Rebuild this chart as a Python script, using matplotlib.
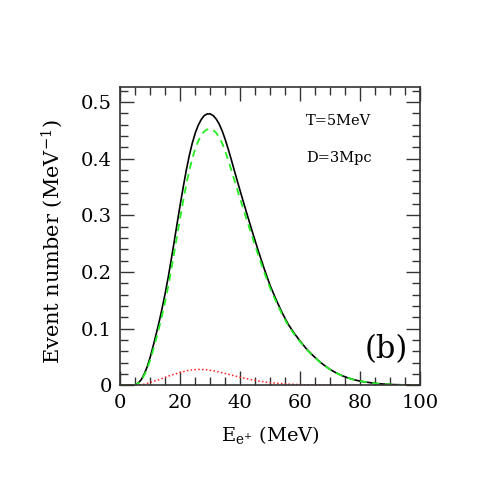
import matplotlib
matplotlib.use("Agg")
import matplotlib.pyplot as plt
from matplotlib.ticker import MultipleLocator

# Positron energy grid (MeV)
energy = [0, 4, 5, 6, 7, 8, 9, 10, 11, 12, 13, 14, 15, 16, 17, 18, 19, 20, 21, 22,
          23, 24, 25, 26, 27, 28, 29, 30, 31, 32, 33, 34, 35, 36, 37, 38, 40, 42, 44,
          46, 48, 50, 52, 54, 56, 58, 60, 62, 64, 66, 68, 70, 72, 74, 76, 78, 80, 85,
          90, 95, 100]

# total (black solid)
total = [0, 0, 0.001, 0.004, 0.010, 0.020, 0.033, 0.050, 0.070, 0.091, 0.113, 0.137,
         0.163, 0.191, 0.222, 0.254, 0.287, 0.319, 0.350, 0.379, 0.405, 0.427, 0.445,
         0.459, 0.469, 0.476, 0.479, 0.479, 0.476, 0.470, 0.461, 0.449, 0.434, 0.417,
         0.399, 0.380, 0.343, 0.307, 0.272, 0.238, 0.206, 0.176, 0.151, 0.128, 0.108,
         0.092, 0.078, 0.065, 0.054, 0.044, 0.0355, 0.028, 0.022, 0.017, 0.013, 0.0098,
         0.0073, 0.0033, 0.0014, 0.0006, 0.0002]

# green dashed component
green = [0, 0, 0.001, 0.0035, 0.009, 0.018, 0.0295, 0.045, 0.0632, 0.0825, 0.103, 0.125,
         0.149, 0.175, 0.204, 0.2345, 0.266, 0.2965, 0.326, 0.3535, 0.3785, 0.3998,
         0.4173, 0.431, 0.441, 0.4482, 0.4517, 0.4525, 0.4504, 0.4455, 0.4377, 0.427,
         0.4132, 0.3975, 0.3808, 0.3632, 0.3288, 0.2952, 0.2624, 0.2303, 0.200, 0.1713,
         0.1473, 0.1251, 0.1058, 0.0904, 0.0768, 0.0641, 0.0534, 0.0436, 0.0352, 0.0278,
         0.0219, 0.0169, 0.013, 0.0098, 0.0073, 0.0033, 0.0014, 0.0006, 0.0002]

# red dotted component
red = [0, 0, 0, 0.0005, 0.001, 0.002, 0.0035, 0.005, 0.0068, 0.0085, 0.010, 0.012,
       0.014, 0.016, 0.018, 0.0195, 0.021, 0.0225, 0.024, 0.0255, 0.0265, 0.0272,
       0.0277, 0.028, 0.028, 0.0278, 0.0273, 0.0265, 0.0256, 0.0245, 0.0233, 0.022,
       0.0208, 0.0195, 0.0182, 0.0168, 0.0142, 0.0118, 0.0096, 0.0077, 0.006, 0.0047,
       0.0037, 0.0029, 0.0022, 0.0016, 0.0012, 0.0009, 0.0006, 0.0004, 0.0003, 0.0002,
       0.0001, 0.0001, 0, 0, 0, 0, 0, 0, 0]

plt.rcParams['font.family'] = ['DejaVu Serif']
plt.rcParams['mathtext.fontset'] = 'dejavuserif'

fig = plt.figure(figsize=(4.91, 4.91), dpi=100)
ax = fig.add_axes([0.245, 0.2153, 0.6104, 0.6081])

ax.plot(energy, total, color='black', lw=1.2, solid_joinstyle='round')
ax.plot(energy, green, color='#22ee22', lw=1.3, ls=(0, (4, 3)))
ax.plot(energy, red, color='#ff2020', lw=1.1, ls=(0, (1, 1.5)))

ax.set_xlim(0, 100)
ax.set_ylim(0, 0.527)

ax.xaxis.set_minor_locator(MultipleLocator(5))
ax.yaxis.set_minor_locator(MultipleLocator(0.02))
ax.set_xticks([0, 20, 40, 60, 80, 100])
ax.set_xticklabels(['0', '20', '40', '60', '80', '100'])
ax.set_yticks([0, 0.1, 0.2, 0.3, 0.4, 0.5])
ax.set_yticklabels(['0', '0.1', '0.2', '0.3', '0.4', '0.5'])

ax.tick_params(which='both', direction='in', top=True, right=True, color='#333333')
ax.tick_params(which='major', length=10, width=1.0, labelsize=14, pad=6)
ax.tick_params(which='minor', length=6, width=1.0)
for s in ax.spines.values():
    s.set_linewidth(1.2)
    s.set_color('#333333')

ax.set_xlabel(r'E$_{\mathregular{e^{+}}}$ (MeV)', fontsize=14)
ax.set_ylabel(r'Event number (MeV$^{-1}$)', fontsize=15)
ax.xaxis.set_label_coords(0.5, -0.13)
ax.yaxis.set_label_coords(-0.185, 0.48)

ax.text(0.62, 0.885, 'T=5MeV', transform=ax.transAxes, fontsize=10.5, ha='left', va='center')
ax.text(0.62, 0.76, 'D=3Mpc', transform=ax.transAxes, fontsize=10.5, ha='left', va='center')
ax.text(0.96, 0.12, '(b)', transform=ax.transAxes, fontsize=22, ha='right', va='center')

fig.savefig('out.png', dpi=100)
